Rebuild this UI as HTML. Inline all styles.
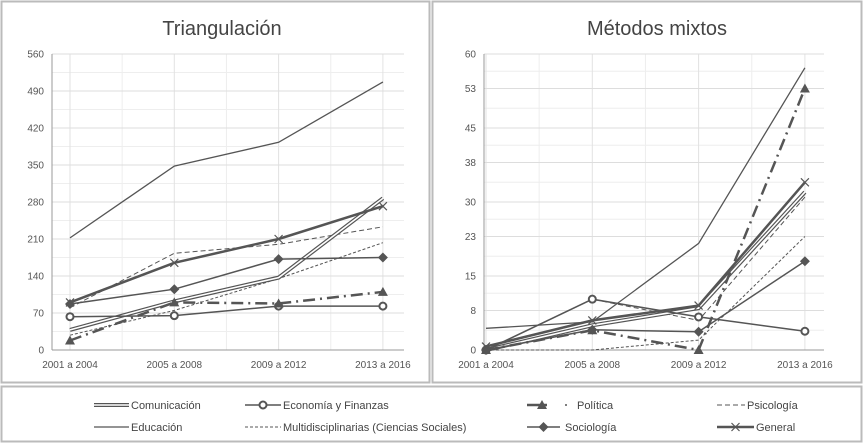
<!DOCTYPE html>
<html><head><meta charset="utf-8"><style>
body{margin:0;background:#fff;}
svg{display:block;font-family:"Liberation Sans",sans-serif;}
</style></head><body>
<svg id="c" width="864" height="443" viewBox="0 0 864 443">
<rect x="0" y="0" width="864" height="443" fill="#fff"/>
<rect x="1.5" y="1.5" width="428" height="381" fill="none" stroke="#bbb" stroke-width="2"/>
<rect x="432.5" y="1.5" width="429" height="381" fill="none" stroke="#bbb" stroke-width="2"/>
<rect x="1.5" y="386.5" width="860" height="55" fill="none" stroke="#bbb" stroke-width="2"/>
<text x="222" y="35" font-size="20" fill="#444" text-anchor="middle">Triangulación</text>
<text x="657" y="35" font-size="20" fill="#444" text-anchor="middle">Métodos mixtos</text>
<g id="legend"></g>
</svg>
<script>
const categories=["2001 a 2004","2005 a 2008","2009 a 2012","2013 a 2016"];
const seriesNames=["Comunicación","Economía y Finanzas","Política","Psicología","Educación","Multidisciplinarias (Ciencias Sociales)","Sociología","General"];
const leftTicks=[0,70,140,210,280,350,420,490,560];
const rightTicks=[0,8,15,23,30,38,45,53,60];
const triComunicacion=[38,92,137,287];
const triEconomia=[63,65,83,83];
const triPolitica=[18,90,88,110];
const triPsicologia=[80,183,200,233];
const triEducacion=[212,348,393,507];
const triMulti=[28,75,135,203];
const triSociologia=[87,115,172,175];
const triGeneral=[90,165,210,272];
const mixComunicacion=[0,5,8.5,32];
const mixEconomia=[0,10.3,6.7,3.8];
const mixPolitica=[0,4,0,53];
const mixPsicologia=[0,10.3,6,31];
const mixEducacion=[4.4,5.7,21.6,57.2];
const mixMulti=[0,0,2,23];
const mixSociologia=[0,4.1,3.7,18];
const mixGeneral=[0.7,6,9,34];

const NS="http://www.w3.org/2000/svg";
const svg=document.getElementById('c');
function mk(tag,attrs,parent){const e=document.createElementNS(NS,tag);for(const k in attrs)e.setAttribute(k,attrs[k]);(parent||svg).appendChild(e);return e;}
const C="#555";
const styles=[
 {type:"double"},
 {w:1.5,marker:"circle"},
 {w:2.5,dash:"12 5 2 5",marker:"tri"},
 {w:1,dash:"5 3"},
 {w:1.3},
 {w:1,dash:"3 2"},
 {w:1.5,marker:"diamond"},
 {w:2.5,marker:"x"}
];
function marker(g,type,x,y){
 if(type==="circle")mk('circle',{cx:x,cy:y,r:3.5,fill:"#fff",stroke:C,"stroke-width":2},g);
 else if(type==="tri")mk('polygon',{points:`${x},${y-5} ${x-5},${y+4} ${x+5},${y+4}`,fill:C},g);
 else if(type==="diamond")mk('polygon',{points:`${x},${y-5} ${x+5},${y} ${x},${y+5} ${x-5},${y}`,fill:C},g);
 else if(type==="x"){mk('path',{d:`M${x-4} ${y-4}L${x+4} ${y+4}M${x-4} ${y+4}L${x+4} ${y-4}`,stroke:C,"stroke-width":1.2},g);}
}
function drawLine(g,pts,st,name){
 const d=pts.map((p,i)=>(i?"L":"M")+p[0].toFixed(1)+" "+p[1].toFixed(1)).join("");
 if(st.type==="double"){
  const a=mk('path',{d,fill:"none",stroke:C,"stroke-width":4},g);
  
  
  mk('path',{d,fill:"none",stroke:"#fff","stroke-width":1.6},g);
 } else {
  const a=mk('path',{d,fill:"none",stroke:C,"stroke-width":st.w},g);
  if(st.dash)a.setAttribute('stroke-dasharray',st.dash);
  
  
 }
 if(st.marker)pts.forEach(p=>marker(g,st.marker,p[0],p[1]));
}
function chart(id,x0,x1,catX,yTop,yBot,maxV,ticks,data){
 const g=mk('g',{});
 
 
 const ys=v=>yBot-(v/maxV)*(yBot-yTop);
 const xs=i=>catX[0]+i*(catX[1]-catX[0]);
 // minor gridlines
 for(let i=0;i<ticks.length-1;i++){const y=(ys(ticks[i])+ys(ticks[i+1]))/2;mk('line',{x1:x0,x2:x1,y1:y,y2:y,stroke:"#eee"},g);}
 for(let i=0;i<4;i++){mk('line',{x1:xs(i),x2:xs(i),y1:yTop,y2:yBot,stroke:"#e2e2e2"},g);if(i<3)mk('line',{x1:xs(i+.5),x2:xs(i+.5),y1:yTop,y2:yBot,stroke:"#eee"},g);}
 ticks.forEach(t=>{const y=ys(t);mk('line',{x1:x0,x2:x1,y1:y,y2:y,stroke:"#ddd"},g);
  const tx=mk('text',{x:x0-8,y:y+3.5,"font-size":10,fill:C,"text-anchor":"end"},g);tx.textContent=t;
  
  });
 mk('line',{x1:x0,x2:x0,y1:yTop,y2:yBot,stroke:"#999"},g);
 mk('line',{x1:x0,x2:x1,y1:yBot,y2:yBot,stroke:"#999"},g);
 categories.forEach((c,i)=>{const tx=mk('text',{x:xs(i),y:yBot+18,"font-size":10,fill:C,"text-anchor":"middle"},g);tx.textContent=c;
  
  });
 const order=[4,5,3,0,1,2,6,7];
 order.forEach(k=>{drawLine(g,data[k].map((v,i)=>[xs(i),ys(v)]),styles[k],id+'-'+k);});
}
chart('left-chart',52,404,[70,174.3],54,350,560,leftTicks,[triComunicacion,triEconomia,triPolitica,triPsicologia,triEducacion,triMulti,triSociologia,triGeneral]);
chart('right-chart',484,824,[486,592.3],54,350,60,rightTicks,[mixComunicacion,mixEconomia,mixPolitica,mixPsicologia,mixEducacion,mixMulti,mixSociologia,mixGeneral]);
// legend
const lg=document.getElementById('legend');
const leg=[[94,405,131],[245,405,283],[527,405,577],[717,405,747],[94,427,131],[245,427,283],[527,427,565],[717,427,756]];
const legOrder=[0,1,2,3,4,5,6,7];
legOrder.forEach((k,i)=>{
 const [sx,y,tx]=leg[i];
 const g=mk('g',{},lg);
 
 
 const st=styles[k];
 const ex=k===2?547:(k===6?560:tx-2);
 if(k===2){drawLine(g,[[sx,y],[ex,y]],{w:2.5},'legend-sample');marker(g,'tri',ex-5,y);mk('circle',{cx:566,cy:y,r:1,fill:C},g);}
 else if(k===6){drawLine(g,[[sx,y],[ex,y]],{w:1.5},'legend-sample');marker(g,'diamond',(sx+ex)/2,y);}
 else{drawLine(g,[[sx,y],[ex,y]],Object.assign({},st,{marker:null}),'legend-sample');if(st.marker)marker(g,st.marker,(sx+ex)/2,y);}
 const t=mk('text',{x:tx,y:y+4,"font-size":11,fill:"#444"},g);t.textContent=seriesNames[k];
});
</script>
</body></html>
